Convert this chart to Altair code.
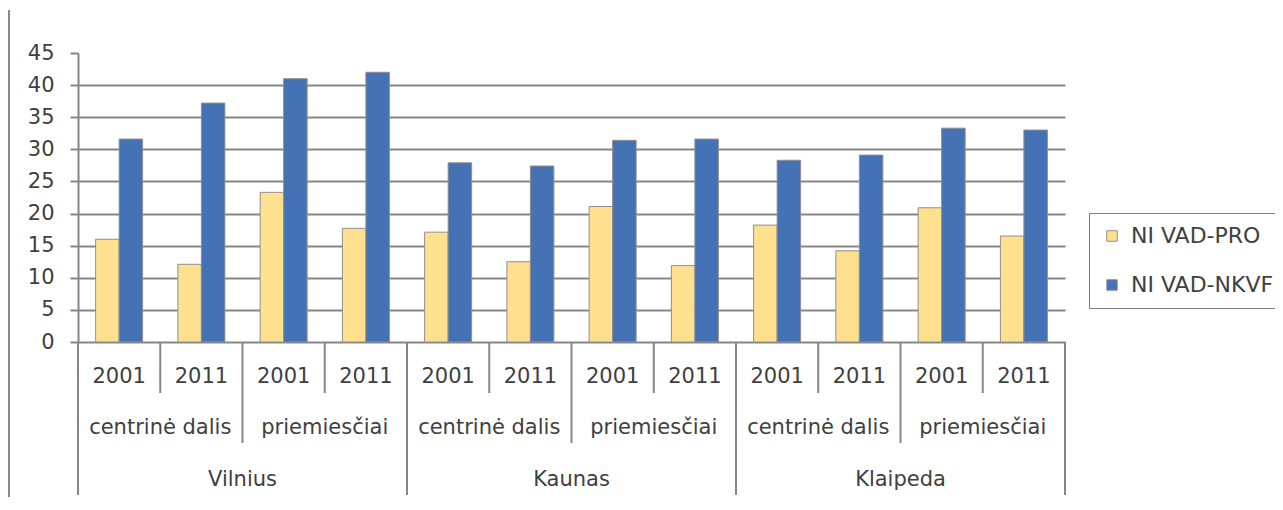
import altair as alt
import pandas as pd

cities = ["Vilnius", "Kaunas", "Klaipeda"]
subs = ["centrinė dalis", "priemiesčiai"]
years = ["2001", "2011"]
series = ["NI VAD-PRO", "NI VAD-NKVF"]
colors = ["#FFE08F", "#4472B4"]

pro = [16.0, 12.1, 23.3, 17.7, 17.1, 12.5, 21.1, 11.9, 18.2, 14.2, 20.9, 16.5]
nkvf = [31.6, 37.2, 41.0, 42.0, 27.9, 27.4, 31.4, 31.6, 28.3, 29.1, 33.3, 33.0]

rows = []
keys = []
i = 0
for c in cities:
    for s in subs:
        for y in years:
            k = f"{c}|{s}|{y}"
            keys.append(k)
            rows.append({"key": k, "city": c, "sub": s, "year": y, "idx": i,
                         "NI VAD-PRO": pro[i], "NI VAD-NKVF": nkvf[i]})
            i += 1
df = pd.DataFrame(rows)
long = df.melt(id_vars=["key", "city", "sub", "year", "idx"], value_vars=series,
               var_name="series", value_name="value")

W, H = 987, 289
FONT = "DejaVu Sans"
FS = 21
TXT = "#404040"
GRID = "#868686"

xscale = alt.Scale(domain=keys, paddingInner=0, paddingOuter=0)

bars = alt.Chart(long).mark_bar(stroke="#8f8f8f", strokeWidth=1).encode(
    x=alt.X("key:N", scale=xscale,
            axis=alt.Axis(labels=False, ticks=False, title=None, domain=True,
                          domainColor=GRID, domainWidth=2, grid=False)),
    xOffset=alt.XOffset("series:N", sort=series,
                        scale=alt.Scale(paddingOuter=0.75, paddingInner=0)),
    y=alt.Y("value:Q", scale=alt.Scale(domain=[0, 45], nice=False),
            axis=alt.Axis(values=list(range(0, 50, 5)), title=None,
                          labelFont=FONT, labelFontSize=FS, labelColor=TXT,
                          labelPadding=16, tickSize=8, tickColor=GRID, tickWidth=2,
                          domainColor=GRID, domainWidth=2,
                          grid=True, gridColor=GRID, gridWidth=2,
                          gridOpacity={"condition": {"test": "datum.value === 45 || datum.value === 0", "value": 0}, "value": 1})),
    color=alt.Color("series:N", sort=series,
                    scale=alt.Scale(domain=series, range=colors),
                    legend=alt.Legend(title=None, orient="none", legendX=1011, legendY=160,
                                      strokeColor="#808080", fillColor="white", padding=12,
                                      symbolType="square", symbolSize=110,
                                      symbolStrokeColor="#8f8f8f", symbolStrokeWidth=1,
                                      labelFont=FONT, labelFontSize=22, labelColor=TXT,
                                      rowPadding=27, labelOffset=8)),
)

year_sep = df[df["idx"] % 2 == 1]
sub_sep = df[(df["idx"] % 2 == 0) & (df["idx"] % 4 != 0)]
city_sep = df[df["idx"] % 4 == 0]
last = df[df["idx"] == len(keys) - 1]


def sep(data, length, band=0):
    return alt.Chart(data).mark_rule(color=GRID, strokeWidth=2).encode(
        x=alt.X("key:N", scale=xscale, bandPosition=band),
        y=alt.value(H), y2=alt.value(H + length))


rules = [sep(year_sep, 51), sep(sub_sep, 101), sep(city_sep, 153), sep(last, 153, 1)]

year_txt = alt.Chart(df).mark_text(font=FONT, fontSize=FS, color=TXT, baseline="middle").encode(
    x=alt.X("key:N", scale=xscale, bandPosition=0.5),
    y=alt.value(H + 35), text="year:N")

sub_df = df[df["year"] == "2011"]
sub_txt = alt.Chart(sub_df).mark_text(font=FONT, fontSize=FS, color=TXT, baseline="middle").encode(
    x=alt.X("key:N", scale=xscale, bandPosition=0),
    y=alt.value(H + 86), text="sub:N")

city_df = df[(df["sub"] == "priemiesčiai") & (df["year"] == "2001")]
city_txt = alt.Chart(city_df).mark_text(font=FONT, fontSize=FS, color=TXT, baseline="middle").encode(
    x=alt.X("key:N", scale=xscale, bandPosition=0),
    y=alt.value(H + 138), text="city:N")

frame = alt.Chart(df.head(1)).mark_rule(color="#8a8a8a", strokeWidth=2).encode(
    x=alt.value(-69), y=alt.value(-43), y2=alt.value(H + 155))

chart = alt.layer(bars, *rules, year_txt, sub_txt, city_txt, frame).properties(
    width=W, height=H,
    autosize=alt.AutoSizeParams(type="none"),
    padding={"left": 70, "top": 45, "right": 210, "bottom": 155},
).configure_view(stroke=None)

chart.save("out.html", embed_options={"renderer": "svg", "actions": False})
